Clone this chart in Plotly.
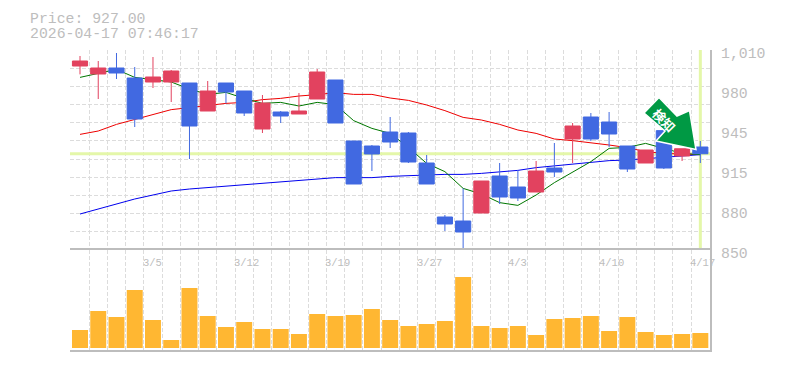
import plotly.graph_objects as go

PRICE_LABEL = "Price: 927.00"
TIME_LABEL = "2026-04-17 07:46:17"
ARROW_TEXT = "検知"

opens = [997.2, 990.8, 995.6, 987.6, 984.4, 984.4, 983.6, 961.2, 983.6, 977.2, 946.8, 960.4, 958.8, 970.8, 986.0,
         937.2, 933.2, 944.4, 943.6, 919.6, 876.4, 873.2, 879.6, 909.2, 900.4, 896.4, 915.6, 938.8, 956.4, 952.4,
         933.2, 919.6, 945.5, 925.2, 932.4]
closes = [1001.2, 995.6, 991.6, 954.8, 988.4, 993.2, 949.2, 977.2, 976.4, 959.6, 967.6, 957.2, 961.2, 992.4, 951.6,
          902.8, 926.8, 936.4, 920.4, 902.8, 870.8, 864.4, 905.2, 892.4, 891.6, 913.2, 912.4, 949.2, 938.8, 942.8,
          914.8, 930.0, 915.6, 931.0, 927.0]
highs = [1005.2, 1001.2, 1007.6, 996.4, 1004.4, 994.0, 983.6, 985.2, 983.6, 977.2, 974.0, 961.2, 975.6, 994.8, 986.0,
         937.2, 934.0, 956.4, 944.4, 926.0, 878.0, 899.3, 905.2, 919.6, 914.0, 921.2, 935.6, 951.6, 959.6, 960.4,
         933.2, 930.0, 945.5, 931.0, 937.2]
lows = [990.5, 970.8, 986.8, 948.4, 979.6, 968.4, 922.8, 961.2, 967.3, 957.2, 943.6, 951.6, 958.8, 970.8, 951.6,
        902.8, 913.2, 931.6, 919.6, 902.8, 865.2, 849.2, 879.6, 886.8, 889.2, 896.4, 908.4, 919.6, 937.2, 932.4,
        912.4, 919.6, 914.8, 921.2, 919.6]
ma_short = [988.1, 991.3, 994.5, 988.1, 986.5, 984.4, 978.8, 974.5, 976.1, 971.3, 967.3, 968.1, 965.2, 968.1, 966.3,
            953.5, 947.3, 943.3, 932.1, 919.3, 912.7, 899.3, 894.8, 887.9, 885.7, 894.0, 903.9, 912.1, 920.7, 931.3,
            932.1, 935.3, 931.3, 927.3, 926.3]
ma_mid = [942.5, 945.2, 950.5, 954.5, 958.0, 962.3, 963.9, 965.7, 967.3, 968.1, 970.3, 971.3, 973.2, 974.3, 975.9,
          974.5, 974.5, 971.6, 969.7, 966.0, 961.5, 956.1, 954.0, 950.5, 946.0, 943.3, 938.8, 937.5, 935.9, 934.0,
          931.9, 928.7, 927.3, 926.5, 926.3]
ma_long = [878.8, 882.8, 886.8, 890.8, 894.0, 897.2, 898.8, 900.0, 900.8, 902.0, 903.6, 904.6, 905.7, 906.8, 907.9,
           907.9, 907.9, 908.9, 909.7, 910.0, 910.5, 910.5, 911.3, 912.7, 913.7, 915.9, 917.2, 919.0, 920.4, 921.5,
           922.0, 923.0, 924.1, 925.2, 926.3]
volumes = [18, 37, 31, 58, 28, 8, 60, 32, 21, 26, 19, 19, 14, 34, 32, 33, 39, 28,
           22, 24, 27, 71, 22, 20, 22, 13, 29, 30, 32, 17, 31, 16, 13, 14, 15]
date_labels = ["3/5", "3/12", "3/19", "3/27", "4/3", "4/10", "4/17"]
date_index = [4, 9, 14, 19, 24, 29, 34]
price_ticks = [1010, 978, 946, 914, 882, 850]
price_text = ["1,010", "980", "945", "915", "880", "850"]
last_price = 927

x = list(range(len(opens)))
XR = [-0.548, 34.53]
MONO = "Liberation Mono"
GREY = "#bdbdbd"
GRID = "#dcdcdc"
RED = "#e2425f"
BLUE = "#4169e1"
HL = "#e4f7a9"
ORANGE = "#ffb732"
ARROW = "#009944"
DASH = "4px,2px"

# Page body has an 8px margin: the plot area stays at x 70-710, y 50-350.
PW = 640.0
PH = 300.0


def px(xp, yp):
    return f"{(xp - 70) / PW:.4f}", f"{(350 - yp) / PH:.4f}"


arrow_px = [(644, 113), (659, 97.5), (677, 116), (689.5, 110.5), (696, 149.5), (656, 141), (665, 131)]
path = "M " + " L ".join(" ".join(px(a, b)) for a, b in arrow_px) + " Z"

fig = go.Figure()
fig.add_trace(go.Scatter(x=XR, y=[last_price, last_price], mode="lines", line=dict(color=HL, width=3), hoverinfo="skip"))
fig.add_trace(go.Scatter(x=[x[-1], x[-1]], y=[1010, 850], mode="lines", line=dict(color=HL, width=3), hoverinfo="skip"))
fig.add_trace(go.Scatter(x=x, y=ma_mid, mode="lines", line=dict(color="#ee0000", width=1)))
fig.add_trace(go.Scatter(x=x, y=ma_long, mode="lines", line=dict(color="#0000ee", width=1)))
fig.add_trace(go.Scatter(x=x, y=ma_short, mode="lines", line=dict(color="#007700", width=1)))
# Candles sit on an overlaid y axis so they draw above the moving averages.
fig.add_trace(go.Candlestick(
    x=x, open=opens, high=highs, low=lows, close=closes, whiskerwidth=0, yaxis="y3",
    increasing=dict(line=dict(color=RED, width=1), fillcolor=RED),
    decreasing=dict(line=dict(color=BLUE, width=1), fillcolor=BLUE),
))
fig.add_trace(go.Bar(x=x, y=volumes, marker=dict(color=ORANGE, line=dict(width=0)), width=0.875, xaxis="x2", yaxis="y2"))

annotations = [
    dict(text=PRICE_LABEL, xref="paper", yref="paper", x=-0.0625, y=1.104, xanchor="left", yanchor="middle",
         showarrow=False, font=dict(family=MONO, size=14.8, color=GREY), borderpad=0, xshift=-1),
    dict(text=TIME_LABEL, xref="paper", yref="paper", x=-0.0625, y=1.054, xanchor="left", yanchor="middle",
         showarrow=False, font=dict(family=MONO, size=14.8, color=GREY), borderpad=0, xshift=-1),
    dict(text=ARROW_TEXT, xref="paper", yref="paper", x=(663.5 - 70) / PW, y=(350 - 120) / PH, xanchor="center",
         yanchor="middle", textangle=45, showarrow=False,
         font=dict(family="Noto Sans CJK JP", size=13, color="white", weight="bold")),
]
for i, lab in zip(date_index, date_labels):
    annotations.append(dict(text=lab, xref="x", yref="paper", x=i - 0.5, y=0.327, xanchor="left", yanchor="top",
                            xshift=-2, yshift=-4, showarrow=False, font=dict(family=MONO, size=10.5, color=GREY), borderpad=0))

fig.update_layout(
    width=777, height=362, autosize=False, showlegend=False, template=None,
    paper_bgcolor="white", plot_bgcolor="white",
    margin=dict(l=62, r=75, t=42, b=20), boxgap=0.17, boxgroupgap=0, bargap=0.125,
    annotations=annotations,
    shapes=[dict(type="path", xref="paper", yref="paper", path=path, fillcolor=ARROW, line=dict(width=1.5, color="white"))],
    xaxis=dict(domain=[0, 1], range=XR, anchor="y", rangeslider=dict(visible=False), tickvals=[i - 0.5 for i in x] + [34.5],
               showticklabels=False, ticks="", showgrid=True, gridcolor=GRID, griddash=DASH, gridwidth=1, zeroline=False,
               showline=False),
    yaxis=dict(domain=[1 / 3, 1], range=[850, 1010], side="right", tickvals=[850 + 160 * k / 11 for k in range(12)],
               showticklabels=False, ticks="", showgrid=True, gridcolor=GRID, griddash=DASH, zeroline=False,
               showline=True, linecolor=GREY, mirror=False, linewidth=1.5),
    yaxis3=dict(range=[850, 1010], overlaying="y", side="right", anchor="x", showgrid=False, showticklabels=False,
                ticks="", zeroline=False, showline=False),
    xaxis2=dict(domain=[0, 1], range=XR, anchor="y2", tickvals=[i - 0.5 for i in x] + [34.5], showticklabels=False, ticks="",
                showgrid=True, gridcolor=GRID, griddash=DASH, zeroline=False, showline=True, linecolor=GREY, mirror=True, linewidth=1.5),
    yaxis2=dict(domain=[0, 1 / 3], range=[-2, 98], side="right", anchor="x2", showticklabels=False, ticks="", showgrid=False,
                zeroline=False, showline=True, linecolor=GREY, linewidth=1.5),
)

for t, lab in zip(price_ticks, price_text):
    fig.add_annotation(text=lab, xref="paper", yref="y", x=(720 - 70) / PW, y=t, xanchor="left", yanchor="middle", yshift=-4,
                       showarrow=False, font=dict(family=MONO, size=14.8, color=GREY), borderpad=0)

fig.write_html("out.html")
